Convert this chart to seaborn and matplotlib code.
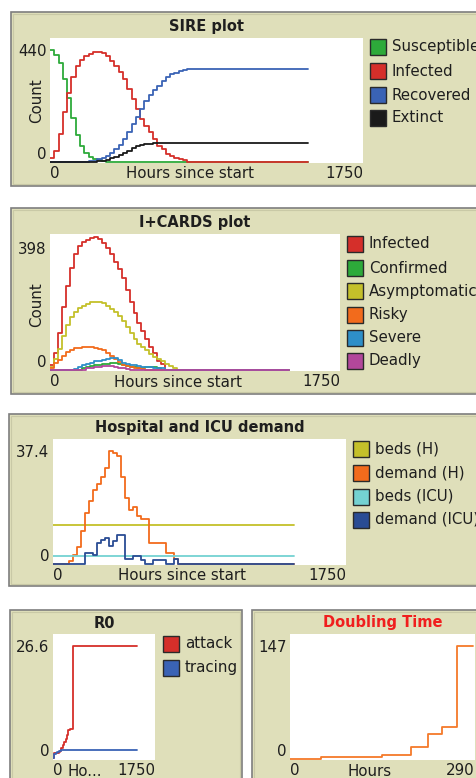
"""
NetLogo-style epidemic dashboard: SIRE, I+CARDS, hospital demand, R0 and doubling time.
Writes out.png (477x778).
"""
import matplotlib
matplotlib.use("Agg")
import matplotlib.pyplot as plt
from matplotlib.patches import Rectangle
import seaborn as sns

# shared time grid (hours since start); everything is flat after 792 h
HOURS = [0, 24, 48, 72, 96, 120, 144, 168, 192, 216, 240, 264, 288, 312, 336,
         360, 384, 408, 432, 456, 480, 504, 528, 552, 576, 600, 624, 648, 672,
         696, 720, 744, 768, 792, 1440]

# SIRE plot
SUSCEPTIBLE = [440, 420, 390, 325, 250, 172, 105, 62, 34, 19, 11, 6, 3, 1, 0,
               0, 0, 0, 0, 0, 0, 0, 0, 0, 0, 0, 0, 0, 0, 0, 0, 0, 0, 0, 0]
INFECTED = [15, 45, 110, 195, 270, 332, 378, 400, 415, 426, 432, 433, 427, 415,
            398, 378, 355, 325, 288, 248, 208, 170, 142, 118, 92, 64, 52, 30, 22,
            17, 11, 6, 0, 0, 0]
RECOVERED = [0, 0, 0, 0, 0, 0, 0, 0, 0, 2, 5, 10, 16, 25, 36, 50, 68, 92, 118,
             148, 178, 208, 238, 262, 282, 300, 318, 334, 344, 351, 357, 362,
             367, 367, 367]
EXTINCT = [0, 0, 0, 0, 0, 0, 0, 0, 0, 0, 1, 2, 4, 8, 14, 21, 28, 35, 45, 56, 63,
           67, 69, 71, 73, 75, 75, 75, 75, 75, 75, 75, 75, 75, 75]

# I+CARDS plot
CARDS_INFECTED = [18, 55, 120, 205, 275, 335, 380, 405, 418, 426, 433, 434, 428,
                  415, 400, 378, 355, 332, 300, 262, 222, 185, 155, 128, 100, 75,
                  55, 30, 20, 0, 0, 0, 0, 0, 0]
CONFIRMED = [0, 0, 0, 0, 0, 0, 0, 0, 5, 10, 14, 16, 18, 20, 21, 22, 22, 19, 15,
             12, 10, 9, 8, 7, 9, 11, 11, 6, 0, 0, 0, 0, 0, 0, 0]
ASYMPTOMATIC = [10, 35, 70, 112, 148, 172, 190, 202, 211, 217, 222, 224, 222,
                218, 211, 201, 190, 176, 160, 140, 120, 100, 86, 76, 64, 53, 44,
                36, 28, 20, 13, 6, 0, 0, 0]
RISKY = [8, 22, 34, 46, 58, 66, 71, 73, 74, 74, 74, 73, 70, 65, 56, 46, 36, 26,
         18, 12, 9, 7, 5, 3, 0, 0, 0, 0, 0, 0, 0, 0, 0, 0, 0]
SEVERE = [0, 0, 0, 0, 0, 0, 4, 10, 17, 21, 24, 28, 31, 34, 37, 39, 38, 33, 24,
          20, 17, 15, 13, 11, 10, 9, 8, 7, 5, 0, 0, 0, 0, 0, 0]
DEADLY = [0, 0, 0, 0, 0, 0, 0, 0, 0, 5, 7, 9, 11, 13, 14, 12, 9, 7, 5, 3, 0, 0,
          0, 0, 0, 0, 0, 0, 0, 0, 0, 0, 0, 0, 0]

# Hospital and ICU demand
BEDS_HOURS = [0, 1440]
BEDS_H = [13.0, 13.0]
BEDS_ICU = [2.6, 2.6]
DEMAND_H = [0, 0, 0, 0, 1, 3, 5.5, 11, 17, 21, 24.5, 26.5, 29, 32, 37.4, 37, 36,
            29, 22, 18, 19, 16, 15, 15, 7, 7, 7, 6.9, 3.6, 3.6, 1.5, 0, 0, 0, 0]
DEMAND_ICU = [0, 0, 0, 0, 0, 0, 0, 0, 3.6, 3.6, 3.0, 6.9, 8.0, 8.6, 5.9, 7.5,
              9.7, 9.7, 1.5, 1.5, 2.6, 2.6, 1.2, 0, 0, 1.2, 1.2, 1.2, 0, 0, 1.5,
              0, 0, 0, 0]

# R0
R0_ATTACK = [0.3, 1.5, 1.3, 1.5, 1.6, 2.0, 2.6, 3.2, 4.0, 4.8, 5.6, 6.8, 7.0,
             7.0, 26.6, 26.6, 26.6, 26.6, 26.6, 26.6, 26.6, 26.6, 26.6, 26.6,
             26.6, 26.6, 26.6, 26.6, 26.6, 26.6, 26.6, 26.6, 26.6, 26.6, 26.6]
R0_TRACING = [0.2, 1.2, 1.5, 1.7, 1.9, 2.0, 2.1, 2.1, 2.1, 2.1, 2.1, 2.1, 2.1,
              2.1, 2.1, 2.1, 2.1, 2.1, 2.1, 2.1, 2.1, 2.1, 2.1, 2.1, 2.1, 2.1,
              2.1, 2.1, 2.1, 2.1, 2.1, 2.1, 2.1, 2.1, 2.1]

# Doubling time
DT_HOURS = [0, 48, 144, 190, 216, 238, 262, 287]
DT_VALUES = [0.4, 2.6, 5.6, 15.5, 32.3, 42.3, 147, 147]

W, H = 477, 778
PANEL_BG = "#DFDFBA"
INK = "#1E1E1E"
FS = 10.8

GREEN = "#2DAA3A"
RED = "#D52F2A"
BLUE = "#3A63B5"
BLACK = "#1A1A1A"
YELLOW = "#C4C02A"
ORANGE = "#F26B1C"
SKY = "#2E8FC8"
MAGENTA = "#B2479B"
CYAN = "#74D2D2"
NAVY = "#2A4C94"

sns.set_theme(style="white")
plt.rcParams["font.family"] = ["DejaVu Sans"]

fig = plt.figure(figsize=(W / 100, H / 100), dpi=100)
fig.patch.set_facecolor("white")


def fx(x):
    return x / W


def fy(y):
    return 1 - y / H


def ptext(x, y, s, **kw):
    kw.setdefault("ha", "center")
    kw.setdefault("va", "center")
    kw.setdefault("fontsize", FS)
    kw.setdefault("color", INK)
    fig.text(fx(x), fy(y), s, **kw)


def panel(x0, y0, x1, y1):
    # outer dark edge plus a lighter inner edge, like the widget frame
    fig.add_artist(Rectangle((fx(x0), fy(y1)), (x1 - x0) / W, (y1 - y0) / H,
                             transform=fig.transFigure, facecolor=PANEL_BG,
                             edgecolor="#7E7E7E", lw=1.2, zorder=-2))
    fig.add_artist(Rectangle((fx(x0 + 2), fy(y1 - 2)), (x1 - x0 - 4) / W,
                             (y1 - y0 - 4) / H, transform=fig.transFigure,
                             facecolor="none", edgecolor="#C9C9A6", lw=0.8,
                             zorder=-1))


def legend(x, ys, labels, colors):
    for y, lab, col in zip(ys, labels, colors):
        fig.add_artist(Rectangle((fx(x), fy(y + 8)), 16 / W, 16 / H,
                                 transform=fig.transFigure, facecolor=col,
                                 edgecolor="#2A2A2A", lw=1.0, zorder=3))
        ptext(x + 22, y, lab, ha="left")


def plot_axes(box, xmax, ymax, ytop_value, ytop_label):
    x0, y0, x1, y1 = box
    ax = fig.add_axes([fx(x0), fy(y1), (x1 - x0) / W, (y1 - y0) / H])
    ax.set_facecolor("white")
    for sp in ax.spines.values():
        sp.set_visible(False)
    ax.set_xticks([0, xmax], ["0", str(xmax)])
    ax.set_yticks([0, ytop_value], ["0", ytop_label])
    ax.tick_params(length=0, labelsize=FS, labelcolor=INK, pad=2.5)
    xl = ax.get_xticklabels()
    xl[0].set_ha("left")
    xl[1].set_ha("right")
    ax.get_yticklabels()[0].set_va("bottom")
    return ax


def finish(ax, box, xmax, ymax):
    # lift the zero line about one pixel off the bottom edge so it stays visible
    ax.set_xlim(0, xmax)
    ax.set_ylim(-ymax / (box[3] - box[1]), ymax)
    ax.set_xlabel("")
    ax.set_ylabel("")


def steps(ax, x, y, color, lw=1.3):
    sns.lineplot(x=x, y=y, ax=ax, color=color, lw=lw, drawstyle="steps-post",
                 legend=False)


# ---- panel 1: SIRE ----
panel(11, 12, 482, 186)
box1 = (50, 38, 363, 163)
ax1 = plot_axes(box1, 1750, 487, 440, "440")
for series, col in [(SUSCEPTIBLE, GREEN), (INFECTED, RED),
                    (RECOVERED, BLUE), (EXTINCT, BLACK)]:
    steps(ax1, HOURS, series, col)
finish(ax1, box1, 1750, 487)
ptext(206.5, 26, "SIRE plot", fontweight="bold", fontsize=10.5)
ptext(190, 174, "Hours since start")
ptext(37, 101, "Count", rotation=90)
legend(370, [47, 71, 95, 118], ["Susceptible", "Infected", "Recovered", "Extinct"],
       [GREEN, RED, BLUE, BLACK])

# ---- panel 2: I+CARDS ----
panel(11, 208, 482, 394)
box2 = (50, 234, 340, 371)
ax2 = plot_axes(box2, 1750, 445, 398, "398")
for series, col in [(CARDS_INFECTED, RED), (CONFIRMED, GREEN),
                    (ASYMPTOMATIC, YELLOW), (RISKY, ORANGE),
                    (SEVERE, SKY), (DEADLY, MAGENTA)]:
    steps(ax2, HOURS, series, col)
finish(ax2, box2, 1750, 445)
ptext(195, 222, "I+CARDS plot", fontweight="bold", fontsize=10.5)
ptext(178, 382, "Hours since start")
ptext(37, 305, "Count", rotation=90)
legend(347, [244, 268, 291.5, 314.5, 338, 361],
       ["Infected", "Confirmed", "Asymptomatic", "Risky", "Severe", "Deadly"],
       [RED, GREEN, YELLOW, ORANGE, SKY, MAGENTA])

# ---- panel 3: hospital and ICU ----
panel(9, 414, 482, 586)
box3 = (53, 439, 346, 565)
ax3 = plot_axes(box3, 1750, 41.5, 37.4, "37.4")
steps(ax3, BEDS_HOURS, BEDS_H, YELLOW)
steps(ax3, HOURS, DEMAND_H, ORANGE)
steps(ax3, BEDS_HOURS, BEDS_ICU, CYAN)
steps(ax3, HOURS, DEMAND_ICU, NAVY)
finish(ax3, box3, 1750, 41.5)
ptext(199.5, 427, "Hospital and ICU demand", fontweight="bold", fontsize=10.5)
ptext(182, 576, "Hours since start")
legend(353, [449, 472.5, 496.5, 519.5],
       ["beds (H)", "demand (H)", "beds (ICU)", "demand (ICU)"],
       [YELLOW, ORANGE, CYAN, NAVY])

# ---- panel 4: R0 ----
panel(10, 610, 242, 782)
box4 = (53, 634, 155, 760)
ax4 = plot_axes(box4, 1750, 29.5, 26.6, "26.6")
steps(ax4, HOURS, R0_ATTACK, RED)
steps(ax4, HOURS, R0_TRACING, BLUE)
finish(ax4, box4, 1750, 29.5)
ptext(104, 623, "R0", fontweight="bold", fontsize=10.5)
ptext(85, 771, "Ho...")
legend(163, [644, 667.5], ["attack", "tracing"], [RED, BLUE])

# ---- panel 5: doubling time ----
panel(252, 610, 482, 782)
box5 = (290, 634, 475, 760)
ax5 = plot_axes(box5, 290, 163, 147, "147")
steps(ax5, DT_HOURS, DT_VALUES, "#F47A2A")
finish(ax5, box5, 290, 163)
ptext(382.5, 623, "Doubling Time", fontweight="bold", fontsize=10.5, color="#F01E1E")
ptext(370, 771, "Hours")

fig.savefig("out.png", dpi=100, facecolor="white")
